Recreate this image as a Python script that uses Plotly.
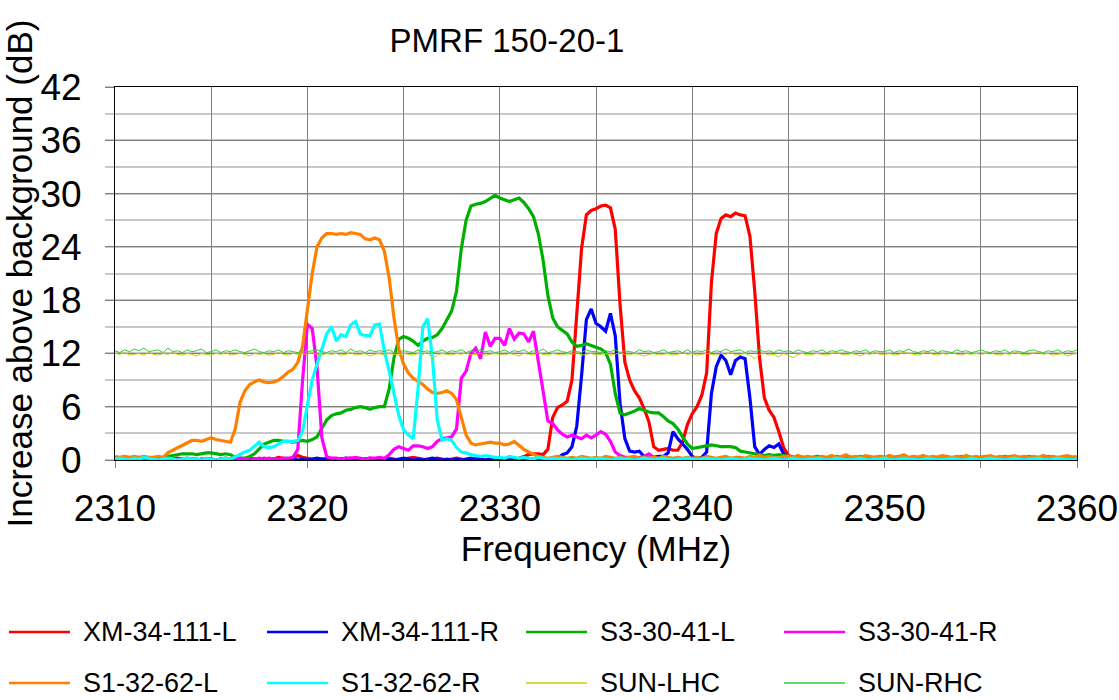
import plotly.graph_objects as go

# ---------------- data ----------------
freq_start = 2310.0
freq_step = 0.25
n_pts = 201
freq_mhz = [freq_start + freq_step * i for i in range(n_pts)]

xm_34_111_l = [
    0.1, 0.0, 0.1, 0.1, 0.0, 0.1, 0.2, 0.1, 0.0, 0.1, 0.1, 0.0, 0.1, 0.2, 0.1, 0.0, 0.1, 0.1, 0.0, 0.1,
    0.1, 0.0, 0.1, 0.2, 0.1, 0.0, 0.1, 0.1, 0.2, 0.1, 0.0, 0.2, 0.1, 0.1, 0.3, 0.2, 0.1, 0.2, 0.5, 0.3,
    0.2, 0.1, 0.0, 0.1, 0.2, 0.1, 0.0, 0.1, 0.1, 0.2, 0.1, 0.0, 0.1, 0.2, 0.1, 0.0, 0.1, 0.2, 0.1, 0.0,
    0.1, 0.2, 0.3, 0.2, 0.1, 0.0, 0.1, 0.2, 0.1, 0.0, 0.1, 0.2, 0.1, 0.0, 0.1, 0.2, 0.1, 0.0, 0.1, 0.1,
    0.0, 0.1, 0.2, 0.1, 0.2, 0.4, 0.6, 0.7, 0.7, 0.6, 1.2, 4.8, 5.9, 6.2, 6.6, 9.0, 16.0, 23.8, 27.6, 28.1,
    28.3, 28.6, 28.7, 28.4, 26.0, 17.5, 11.0, 9.0, 7.8, 7.0, 5.8, 4.3, 1.5, 1.1, 1.2, 1.3, 1.1, 1.1, 2.0, 4.0,
    5.2, 6.0, 7.3, 9.8, 20.0, 25.5, 27.2, 27.6, 27.4, 27.8, 27.6, 27.5, 25.2, 19.0, 11.5, 7.0, 5.6, 4.8, 3.2, 1.4,
    0.5, 0.3, 0.2, 0.3, 0.2, 0.1, 0.2, 0.3, 0.2, 0.1, 0.2, 0.1, 0.2, 0.3, 0.1, 0.2, 0.1, 0.2, 0.1, 0.2,
    0.1, 0.2, 0.1, 0.0, 0.1, 0.2, 0.1, 0.2, 0.1, 0.0, 0.1, 0.2, 0.1, 0.1, 0.2, 0.1, 0.0, 0.1, 0.2, 0.1,
    0.2, 0.1, 0.0, 0.1, 0.2, 0.1, 0.1, 0.2, 0.1, 0.0, 0.1, 0.2, 0.1, 0.1, 0.0, 0.1, 0.2, 0.1, 0.1, 0.2,
    0.1,
]

xm_34_111_r = [
    0.0, 0.1, 0.0, 0.1, 0.1, 0.0, 0.1, 0.0, 0.1, 0.0, 0.0, 0.1, 0.0, 0.1, 0.0, 0.1, 0.0, 0.0, 0.1, 0.0,
    0.1, 0.0, 0.1, 0.0, 0.0, 0.1, 0.0, 0.1, 0.0, 0.1, 0.0, 0.0, 0.1, 0.0, 0.1, 0.0, 0.0, 0.1, 0.0, 0.1,
    0.0, 0.1, 0.2, 0.1, 0.0, 0.1, 0.0, 0.1, 0.2, 0.0, 0.1, 0.0, 0.1, 0.0, 0.1, 0.2, 0.0, 0.1, 0.0, 0.1,
    0.2, 0.1, 0.0, 0.1, 0.0, 0.1, 0.2, 0.1, 0.0, 0.1, 0.0, 0.1, 0.0, 0.1, 0.2, 0.0, 0.1, 0.0, 0.1, 0.2,
    0.1, 0.0, 0.1, 0.2, 0.0, 0.1, 0.0, 0.1, 0.2, 0.1, 0.0, 0.1, 0.2, 0.6, 0.8, 1.5, 3.8, 9.5, 15.8, 17.0,
    15.4, 15.0, 14.5, 16.5, 14.0, 6.4, 2.4, 1.0, 0.9, 1.0, 0.4, 0.2, 0.3, 0.4, 0.4, 0.8, 3.2, 2.4, 1.8, 1.2,
    0.4, 0.2, 0.3, 0.9, 7.5, 10.5, 11.8, 11.2, 9.6, 11.2, 11.6, 11.4, 7.0, 1.5, 0.6, 1.2, 1.6, 1.4, 1.8, 0.7,
    0.2, 0.1, 0.0, 0.1, 0.2, 0.1, 0.0, 0.1, 0.0, 0.1, 0.2, 0.1, 0.0, 0.1, 0.1, 0.0, 0.1, 0.2, 0.1, 0.0,
    0.1, 0.0, 0.1, 0.1, 0.0, 0.2, 0.1, 0.0, 0.1, 0.0, 0.1, 0.2, 0.1, 0.0, 0.1, 0.0, 0.1, 0.1, 0.2, 0.0,
    0.1, 0.0, 0.1, 0.2, 0.1, 0.0, 0.1, 0.0, 0.1, 0.1, 0.2, 0.1, 0.0, 0.1, 0.0, 0.1, 0.2, 0.1, 0.0, 0.1,
    0.1,
]

s3_30_41_l = [
    0.3, 0.2, 0.3, 0.2, 0.3, 0.2, 0.3, 0.2, 0.3, 0.2, 0.3, 0.4, 0.5, 0.6, 0.7, 0.7, 0.7, 0.6, 0.7, 0.8,
    0.8, 0.7, 0.6, 0.7, 0.6, 0.3, 0.2, 0.2, 0.4, 0.7, 1.3, 1.8, 2.0, 2.2, 2.2, 2.1, 2.1, 2.0, 2.1, 2.2,
    2.1, 2.3, 2.6, 3.5, 4.5, 5.0, 5.2, 5.3, 5.6, 5.7, 5.9, 6.0, 5.9, 5.7, 5.9, 6.0, 6.0, 8.0, 11.5, 13.6,
    13.9, 13.7, 13.4, 12.9, 13.4, 13.7, 13.8, 14.1, 14.8, 15.8, 16.8, 19.0, 23.8, 27.0, 28.6, 28.8, 28.9, 29.1, 29.4, 29.8,
    29.5, 29.3, 29.1, 29.3, 29.5, 29.0, 28.3, 27.4, 25.5, 22.5, 18.5, 16.0, 15.0, 14.6, 14.2, 13.3, 12.8, 12.9, 13.1, 12.9,
    12.7, 12.5, 12.1, 10.8, 7.5, 5.3, 5.1, 5.3, 5.5, 5.8, 5.6, 5.4, 5.3, 5.3, 4.9, 4.4, 4.1, 3.5, 2.6, 1.8,
    1.3, 1.4, 1.5, 1.6, 1.7, 1.6, 1.5, 1.5, 1.5, 1.4, 1.0, 0.9, 0.8, 0.7, 0.6, 0.5, 0.6, 0.5, 0.6, 0.5,
    0.4, 0.3, 0.4, 0.3, 0.2, 0.3, 0.4, 0.3, 0.2, 0.3, 0.4, 0.3, 0.2, 0.3, 0.3, 0.4, 0.3, 0.2, 0.3, 0.4,
    0.3, 0.2, 0.3, 0.4, 0.3, 0.2, 0.3, 0.3, 0.4, 0.3, 0.2, 0.3, 0.4, 0.3, 0.2, 0.3, 0.4, 0.3, 0.3, 0.2,
    0.3, 0.4, 0.3, 0.2, 0.3, 0.4, 0.3, 0.2, 0.3, 0.3, 0.4, 0.3, 0.2, 0.3, 0.4, 0.3, 0.2, 0.3, 0.4, 0.3,
    0.3,
]

s3_30_41_r = [
    0.1, 0.0, 0.1, 0.2, 0.1, 0.0, 0.1, 0.1, 0.0, 0.1, 0.2, 0.1, 0.0, 0.1, 0.1, 0.2, 0.1, 0.0, 0.1, 0.1,
    0.1, 0.0, 0.1, 0.1, 0.0, 0.1, 0.2, 0.1, 0.0, 0.1, 0.2, 0.1, 0.2, 0.1, 0.1, 0.2, 0.2, 0.3, 1.2, 9.0,
    15.3, 14.8, 10.5, 2.5, 0.4, 0.2, 0.2, 0.1, 0.2, 0.2, 0.3, 0.2, 0.1, 0.2, 0.2, 0.3, 0.2, 0.6, 1.2, 1.5,
    1.3, 1.1, 1.6, 1.6, 1.5, 1.3, 1.5, 2.1, 2.4, 2.5, 2.6, 3.5, 9.2, 10.0, 12.0, 12.6, 11.4, 14.4, 12.8, 13.7,
    13.7, 12.9, 14.8, 13.6, 14.3, 14.2, 13.3, 14.5, 11.0, 7.5, 4.4, 4.1, 3.4, 2.9, 2.6, 2.8, 2.6, 2.4, 2.8, 2.5,
    2.8, 3.2, 2.9, 2.1, 0.9, 0.5, 0.3, 0.3, 0.2, 0.3, 0.4, 0.7, 0.3, 0.2, 0.1, 0.2, 0.1, 0.2, 0.1, 0.2,
    0.1, 0.2, 0.1, 0.0, 0.2, 0.1, 0.1, 0.2, 0.0, 0.1, 0.2, 0.1, 0.0, 0.1, 0.2, 0.1, 0.1, 0.0, 0.1, 0.2,
    0.1, 0.0, 0.2, 0.1, 0.1, 0.0, 0.1, 0.2, 0.1, 0.0, 0.1, 0.1, 0.2, 0.1, 0.0, 0.1, 0.2, 0.1, 0.0, 0.1,
    0.2, 0.1, 0.0, 0.1, 0.1, 0.2, 0.1, 0.0, 0.1, 0.2, 0.1, 0.1, 0.0, 0.1, 0.2, 0.1, 0.0, 0.1, 0.1, 0.2,
    0.1, 0.0, 0.1, 0.2, 0.1, 0.1, 0.0, 0.2, 0.1, 0.0, 0.1, 0.1, 0.2, 0.1, 0.0, 0.1, 0.2, 0.1, 0.0, 0.1,
    0.2,
]

s1_32_62_l = [
    0.4, 0.3, 0.4, 0.3, 0.4, 0.3, 0.4, 0.3, 0.3, 0.4, 0.3, 0.8, 1.1, 1.4, 1.6, 1.9, 2.2, 2.2, 2.1, 2.3,
    2.5, 2.3, 2.2, 2.1, 2.0, 3.5, 6.5, 7.8, 8.5, 8.8, 9.0, 8.8, 8.7, 8.8, 9.0, 9.4, 9.9, 10.2, 11.0, 12.8,
    17.0, 21.0, 24.0, 25.0, 25.5, 25.5, 25.4, 25.5, 25.4, 25.6, 25.5, 25.4, 24.9, 24.8, 25.0, 24.8, 23.5, 20.5, 16.0, 12.5,
    10.8, 9.8, 9.2, 8.9, 8.5, 8.0, 7.6, 7.5, 7.6, 7.8, 7.5, 6.8, 4.8, 2.8, 1.9, 1.7, 1.8, 1.9, 2.0, 1.9,
    1.9, 1.7, 1.8, 2.1, 1.6, 1.2, 0.9, 0.6, 0.4, 0.3, 0.2, 0.3, 0.4, 0.3, 0.2, 0.3, 0.2, 0.4, 0.3, 0.2,
    0.3, 0.2, 0.4, 0.3, 0.2, 0.3, 0.2, 0.3, 0.4, 0.2, 0.3, 0.2, 0.3, 0.2, 0.4, 0.3, 0.2, 0.3, 0.2, 0.3,
    0.2, 0.3, 0.2, 0.4, 0.3, 0.2, 0.3, 0.4, 0.2, 0.3, 0.3, 0.2, 0.4, 0.3, 0.5, 0.3, 0.4, 0.3, 0.2, 0.4,
    0.4, 0.3, 0.5, 0.3, 0.4, 0.3, 0.2, 0.4, 0.3, 0.5, 0.3, 0.4, 0.6, 0.3, 0.4, 0.3, 0.5, 0.4, 0.3, 0.4,
    0.3, 0.5, 0.3, 0.4, 0.6, 0.3, 0.4, 0.3, 0.5, 0.3, 0.4, 0.3, 0.5, 0.4, 0.3, 0.4, 0.3, 0.5, 0.3, 0.4,
    0.3, 0.4, 0.5, 0.3, 0.4, 0.3, 0.4, 0.5, 0.3, 0.4, 0.3, 0.4, 0.3, 0.5, 0.3, 0.4, 0.3, 0.4, 0.5, 0.3,
    0.4,
]

s1_32_62_r = [
    0.1, 0.2, 0.1, 0.0, 0.2, 0.1, 0.3, 0.2, 0.1, 0.0, 0.1, 0.2, 0.1, 0.0, 0.1, 0.2, 0.1, 0.1, 0.0, 0.1,
    0.1, 0.0, 0.1, 0.2, 0.1, 0.4, 0.6, 0.9, 1.1, 1.5, 2.0, 1.5, 1.4, 1.5, 1.8, 2.1, 2.1, 2.1, 2.2, 3.2,
    6.2, 9.0, 10.8, 12.6, 14.2, 15.0, 13.4, 14.1, 13.9, 15.2, 15.6, 14.2, 14.0, 14.0, 15.2, 15.3, 12.3, 10.0, 7.5, 5.0,
    3.4, 2.8, 2.4, 8.0, 15.0, 15.9, 11.5, 4.5, 2.2, 2.4, 2.2, 1.4, 0.9, 0.8, 0.6, 0.5, 0.4, 0.5, 0.4, 0.3,
    0.3, 0.2, 0.4, 0.3, 0.2, 0.3, 0.2, 0.1, 0.3, 0.2, 0.1, 0.2, 0.1, 0.2, 0.1, 0.0, 0.1, 0.2, 0.1, 0.2,
    0.1, 0.2, 0.1, 0.0, 0.1, 0.2, 0.1, 0.1, 0.0, 0.1, 0.2, 0.1, 0.0, 0.1, 0.2, 0.1, 0.0, 0.1, 0.1, 0.2,
    0.1, 0.0, 0.1, 0.2, 0.1, 0.1, 0.0, 0.1, 0.2, 0.1, 0.0, 0.1, 0.2, 0.1, 0.1, 0.0, 0.1, 0.2, 0.1, 0.0,
    0.1, 0.2, 0.1, 0.0, 0.1, 0.1, 0.2, 0.1, 0.0, 0.1, 0.2, 0.1, 0.1, 0.0, 0.1, 0.2, 0.1, 0.0, 0.1, 0.1,
    0.2, 0.1, 0.0, 0.1, 0.2, 0.1, 0.1, 0.0, 0.1, 0.2, 0.1, 0.0, 0.1, 0.1, 0.2, 0.1, 0.0, 0.1, 0.2, 0.1,
    0.0, 0.1, 0.2, 0.1, 0.1, 0.0, 0.1, 0.2, 0.1, 0.0, 0.1, 0.1, 0.2, 0.1, 0.0, 0.1, 0.2, 0.1, 0.1, 0.0,
    0.1,
]

sun_lhc = [
    12.0, 11.9, 12.1, 11.8, 11.9, 12.0, 11.8, 12.1, 11.9, 11.8, 12.0, 11.9, 12.1, 11.9, 11.8, 12.0, 11.9, 11.7, 12.0, 11.9,
    11.8, 12.0, 11.9, 12.1, 11.8, 11.9, 12.0, 11.9, 11.7, 12.0, 11.9, 12.0, 11.8, 11.9, 12.1, 11.9, 11.8, 12.0, 11.9, 12.0,
    11.9, 12.1, 11.9, 11.8, 12.0, 11.9, 12.0, 11.8, 11.9, 12.1, 11.8, 11.9, 12.0, 11.7, 11.9, 12.0, 11.8, 12.0, 11.9, 11.8,
    12.0, 11.9, 11.8, 12.0, 11.9, 12.1, 11.4, 11.8, 12.0, 11.9, 11.8, 12.0, 11.9, 12.1, 11.8, 11.9, 12.0, 11.8, 11.9, 12.0,
    11.9, 11.8, 12.0, 11.9, 11.7, 12.0, 11.9, 11.8, 12.1, 11.9, 11.8, 12.0, 11.9, 11.8, 12.0, 11.9, 12.1, 11.8, 11.9, 12.0,
    11.8, 11.9, 12.0, 11.8, 11.9, 12.1, 11.9, 11.8, 12.0, 11.9, 11.7, 11.9, 12.0, 11.8, 11.9, 12.0, 11.8, 11.9, 12.1, 11.9,
    12.0, 11.8, 11.9, 12.0, 11.9, 11.8, 12.0, 11.9, 12.1, 11.8, 11.9, 12.0, 11.8, 11.4, 11.9, 12.0, 11.8, 11.9, 11.6, 12.0,
    11.8, 11.5, 11.9, 12.0, 11.8, 11.9, 12.0, 11.9, 11.8, 12.0, 12.1, 11.9, 11.8, 12.0, 11.9, 11.7, 12.0, 11.9, 12.1, 11.9,
    11.9, 12.0, 11.8, 11.9, 12.1, 12.0, 11.9, 11.8, 12.0, 12.2, 11.9, 11.8, 12.0, 11.9, 12.1, 11.9, 11.8, 12.0, 11.9, 12.0,
    11.9, 12.0, 12.1, 11.9, 11.8, 12.0, 11.9, 12.1, 12.0, 11.8, 11.9, 12.0, 12.2, 11.9, 12.0, 11.8, 11.9, 12.0, 11.7, 11.9,
    12.0,
]

sun_rhc = [
    12.3, 12.1, 12.4, 12.2, 12.5, 12.3, 12.6, 12.2, 12.3, 12.4, 12.1, 12.6, 12.2, 12.3, 12.1, 12.4, 12.2, 12.3, 12.5, 12.1,
    12.2, 12.4, 12.1, 12.3, 12.2, 12.4, 12.2, 12.1, 12.3, 12.5, 12.2, 12.1, 12.3, 12.2, 12.4, 12.1, 12.3, 12.2, 12.1, 12.3,
    12.2, 12.3, 12.4, 12.2, 12.1, 12.3, 12.2, 12.4, 12.1, 12.5, 12.2, 12.3, 12.1, 12.4, 12.2, 12.3, 12.2, 12.4, 12.1, 12.2,
    12.3, 12.2, 12.1, 12.4, 12.2, 12.3, 12.1, 12.2, 12.4, 12.1, 12.3, 12.2, 12.4, 12.1, 12.3, 12.2, 12.4, 12.2, 12.3, 12.1,
    12.2, 12.4, 12.1, 12.3, 12.2, 12.4, 12.1, 12.3, 12.2, 12.5, 12.1, 12.2, 12.4, 12.2, 12.1, 12.3, 12.2, 12.1, 12.4, 12.2,
    12.2, 12.1, 12.3, 12.2, 12.4, 12.1, 12.3, 12.2, 12.1, 12.4, 12.2, 12.3, 12.1, 12.2, 12.4, 12.1, 12.2, 12.3, 12.1, 12.4,
    12.1, 12.3, 12.2, 12.4, 12.1, 12.3, 12.2, 12.5, 12.2, 12.3, 12.4, 12.1, 12.3, 12.2, 12.4, 12.2, 12.3, 12.1, 12.4, 12.2,
    12.3, 12.1, 12.4, 12.2, 12.1, 12.3, 12.2, 12.4, 12.1, 12.3, 12.2, 12.4, 12.2, 12.1, 12.3, 12.2, 12.4, 12.1, 12.3, 12.2,
    12.2, 12.4, 12.1, 12.3, 12.2, 12.5, 12.2, 12.1, 12.3, 12.2, 12.4, 12.1, 12.3, 12.2, 12.1, 12.4, 12.2, 12.3, 12.1, 12.2,
    12.4, 12.2, 12.1, 12.3, 12.2, 12.4, 12.1, 12.3, 12.2, 12.1, 12.3, 12.4, 12.2, 12.1, 12.3, 12.2, 12.4, 12.1, 12.3, 12.2,
    12.4,
]

series_names = ["XM-34-111-L", "XM-34-111-R", "S3-30-41-L", "S3-30-41-R",
                "S1-32-62-L", "S1-32-62-R", "SUN-LHC", "SUN-RHC"]
series_values = [xm_34_111_l, xm_34_111_r, s3_30_41_l, s3_30_41_r,
                 s1_32_62_l, s1_32_62_r, sun_lhc, sun_rhc]

x_tick_vals = [2310, 2315, 2320, 2325, 2330, 2335, 2340, 2345, 2350, 2355, 2360]
x_tick_text = ["2310", "", "2320", "", "2330", "", "2340", "", "2350", "", "2360"]
y_tick_vals = [0, 6, 12, 18, 24, 30, 36, 42]

# ---------------- styles ----------------
colors = ["#FF0000", "#0000FF", "#00B000", "#FF00FF",
          "#FF8000", "#00FFFF", "#CCCC00", "#33CC33"]
widths = [3.2, 3.2, 3.2, 3.2, 3.2, 3.2, 1, 1]
FONT = "Liberation Sans, Arial, sans-serif"

W, H = 1119, 700
L, R, T, B = 115, 42, 87, 240
PW, PH = W - L - R, H - T - B


def px_to_paper(px, py):
    return (px - L) / PW, (H - B - py) / PH


fig = go.Figure()
for name, vals, c, w in zip(series_names, series_values, colors, widths):
    fig.add_trace(go.Scatter(x=freq_mhz, y=vals, mode="lines", name=name,
                             line=dict(color=c, width=w), showlegend=False))

# manual legend (two rows of four)
legend_x0 = [9, 267, 526, 784]
legend_y = [632, 683]
legend_widths = [2.5, 2.5, 2.5, 2.5, 2.5, 2.5, 1.5, 1.5]
for i, (name, c) in enumerate(zip(series_names, colors)):
    row, col = divmod(i, 4)
    x0 = legend_x0[col]
    y = legend_y[row]
    ax0, ay = px_to_paper(x0, y)
    ax1, _ = px_to_paper(x0 + 61, y)
    fig.add_shape(type="line", xref="paper", yref="paper", x0=ax0, x1=ax1, y0=ay, y1=ay,
                  line=dict(color=c, width=legend_widths[i]))
    tx, _ = px_to_paper(x0 + 72, y)
    fig.add_annotation(xref="paper", yref="paper", x=tx, y=ay, text=name, showarrow=False,
                       xanchor="left", yanchor="middle",
                       font=dict(family=FONT, size=27, color="#000000"))

fig.update_layout(
    width=W, height=H,
    margin=dict(l=L, r=R, t=T, b=B, autoexpand=False),
    paper_bgcolor="white", plot_bgcolor="white",
    showlegend=False,
    font=dict(family=FONT, color="#000000"),
    title=dict(text="PMRF 150-20-1", x=507 / W, xref="container", xanchor="center",
               y=1 - 40 / H, yref="container", yanchor="middle",
               font=dict(family=FONT, size=33, color="#000000")),
)

fig.update_xaxes(
    range=[2310, 2360], tickmode="array", tickvals=x_tick_vals, ticktext=x_tick_text,
    showgrid=True, gridcolor="#808080", gridwidth=1,
    ticks="outside", ticklen=7, tickcolor="#808080", tickwidth=1,
    ticklabelstandoff=9,
    tickfont=dict(family=FONT, size=37, color="#000000"),
    showline=True, linecolor="#000000", linewidth=1, mirror=True,
    zeroline=False, automargin=False,
    title=dict(text="Frequency (MHz)", font=dict(family=FONT, size=35, color="#000000"), standoff=4),
)
fig.update_yaxes(
    range=[0, 42], tickmode="array", tickvals=y_tick_vals,
    showgrid=True, gridcolor="#808080", gridwidth=1,
    ticks="outside", ticklen=9, tickcolor="#808080", tickwidth=1,
    ticklabelstandoff=16,
    tickfont=dict(family=FONT, size=37, color="#000000"),
    minor=dict(dtick=3, tick0=0, showgrid=True, gridcolor="#C8C8C8", gridwidth=2,
               ticks="outside", ticklen=9, tickcolor="#C8C8C8", tickwidth=2),
    showline=True, linecolor="#000000", linewidth=1, mirror=True,
    zeroline=False, automargin=False,
    title=dict(text="Increase above background (dB)", font=dict(family=FONT, size=35, color="#000000"), standoff=0),
)

fig.write_html("out.html", config={"displayModeBar": False},
               post_script="document.body.style.margin='0';document.body.style.padding='0';")
